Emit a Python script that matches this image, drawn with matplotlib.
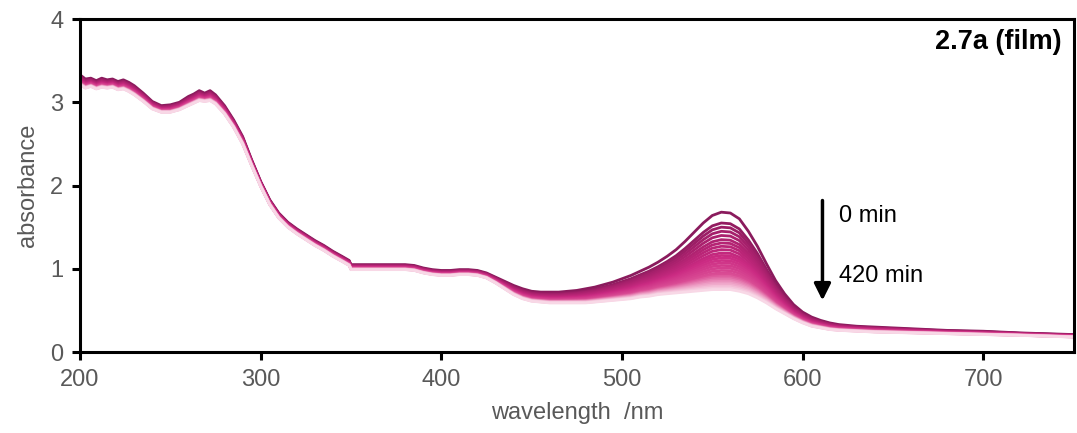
import numpy as np
import matplotlib
matplotlib.use("Agg")
import matplotlib.pyplot as plt
from matplotlib.colors import LinearSegmentedColormap

plt.rcParams['font.family'] = ['Liberation Sans', 'DejaVu Sans']

# Wavelength grid (nm)
wavelength = [200, 203, 206, 209, 212, 215, 218, 221, 224, 227, 230, 235, 240, 245, 250, 255,
              260, 263, 266, 269, 272, 275, 280, 285, 290, 295, 300, 305, 310, 315, 320, 325,
              330, 335, 340, 345, 349, 350, 355, 360, 365, 370, 375, 380, 385, 390, 395, 400,
              405, 410, 415, 420, 425, 430, 435, 440, 445, 450, 455, 460, 465, 470, 475, 480,
              485, 490, 495, 500, 505, 510, 515, 520, 525, 530, 535, 540, 545, 550, 555, 560,
              565, 570, 575, 580, 585, 590, 595, 600, 605, 610, 615, 620, 630, 640, 660, 680,
              700, 720, 750]

# Spectrum at 0 min
abs_0min = [3.33, 3.28, 3.29, 3.26, 3.29, 3.27, 3.28, 3.25, 3.27, 3.24, 3.20, 3.11, 3.01, 2.96,
            2.97, 3.00, 3.07, 3.10, 3.14, 3.11, 3.14, 3.09, 2.96, 2.79, 2.59, 2.31, 2.05, 1.83,
            1.67, 1.56, 1.48, 1.41, 1.34, 1.28, 1.21, 1.15, 1.10, 1.05, 1.05, 1.05, 1.05, 1.05,
            1.05, 1.05, 1.04, 1.01, 0.99, 0.98, 0.98, 0.99, 0.99, 0.98, 0.95, 0.90, 0.85, 0.80,
            0.76, 0.73, 0.72, 0.72, 0.72, 0.73, 0.74, 0.76, 0.78, 0.81, 0.84, 0.88, 0.92, 0.97,
            1.02, 1.08, 1.15, 1.23, 1.33, 1.44, 1.55, 1.64, 1.68, 1.67, 1.60, 1.45, 1.27, 1.06,
            0.86, 0.70, 0.57, 0.48, 0.42, 0.38, 0.35, 0.33, 0.31, 0.30, 0.28, 0.26, 0.25, 0.23,
            0.21]

# Spectrum at 420 min
abs_420min = [3.21, 3.17, 3.19, 3.16, 3.18, 3.17, 3.18, 3.15, 3.16, 3.13, 3.09, 3.01, 2.92, 2.88,
              2.88, 2.91, 2.96, 2.99, 3.02, 3.01, 3.02, 2.98, 2.86, 2.70, 2.50, 2.24, 1.99, 1.77,
              1.61, 1.50, 1.42, 1.35, 1.28, 1.22, 1.15, 1.09, 1.04, 0.99, 0.99, 0.99, 0.99, 0.99,
              0.99, 0.99, 0.98, 0.95, 0.93, 0.92, 0.92, 0.93, 0.93, 0.92, 0.89, 0.83, 0.76, 0.69,
              0.64, 0.61, 0.60, 0.59, 0.59, 0.59, 0.59, 0.59, 0.60, 0.61, 0.62, 0.63, 0.64, 0.66,
              0.67, 0.69, 0.70, 0.71, 0.72, 0.73, 0.74, 0.75, 0.75, 0.75, 0.73, 0.70, 0.65, 0.59,
              0.52, 0.46, 0.40, 0.35, 0.31, 0.29, 0.27, 0.26, 0.25, 0.24, 0.23, 0.22, 0.21, 0.20,
              0.18]

# Absorbance at the 555 nm band maximum for each spectrum, 0 min -> 420 min
peak_abs = [1.68, 1.55, 1.50, 1.45, 1.40, 1.35, 1.31, 1.27, 1.23, 1.19, 1.16, 1.13, 1.10, 1.07,
            1.04, 1.01, 0.98, 0.95, 0.93, 0.91, 0.89, 0.87, 0.85, 0.83, 0.81, 0.79, 0.77, 0.75]

wl = np.array(wavelength, dtype=float)
a0 = np.array(abs_0min)
a1 = np.array(abs_420min)

cmap = LinearSegmentedColormap.from_list(
    "fade", [(0.0, "#8a1b5d"), (0.12, "#a8206c"), (0.4, "#cc2b83"),
             (0.68, "#db4f96"), (0.86, "#ee9fc5"), (1.0, "#f8d8e6")])

fig = plt.figure(figsize=(10.77, 4.33), dpi=100)
ax = fig.add_axes([0.0743, 0.187, 0.9225, 0.769])

n = len(peak_abs)
for i in range(n):
    frac = (peak_abs[i] - peak_abs[-1]) / (peak_abs[0] - peak_abs[-1])
    spec = a1 + frac * (a0 - a1)
    ax.plot(wl, spec, color=cmap(i / (n - 1)), lw=2.0, solid_capstyle='round',
            solid_joinstyle='round')

ax.set_xlim(200, 750)
ax.set_ylim(0, 4)
ax.set_xticks([200, 300, 400, 500, 600, 700])
ax.set_yticks([0, 1, 2, 3, 4])

for s in ax.spines.values():
    s.set_linewidth(2.2)
    s.set_color('black')

ax.tick_params(axis='both', direction='out', length=6, width=2.2, color='black',
               labelsize=17, labelcolor='#595959', pad=6)

ax.set_xlabel("wavelength  /nm", fontsize=17, color='#595959', labelpad=8)
ax.set_ylabel("absorbance", fontsize=17, color='#595959', labelpad=8)

ax.text(0.988, 0.93, "2.7a (film)", transform=ax.transAxes, ha='right', va='center',
        fontsize=19.5, fontweight='bold', color='black')

# time-evolution arrow
ax.annotate("", xy=(611, 0.62), xytext=(611, 1.82),
            arrowprops=dict(arrowstyle="-|>,head_width=0.5,head_length=1.0",
                            color='black', lw=2.5, shrinkA=0, shrinkB=0))
ax.text(620, 1.64, "0 min", fontsize=17, color='black', va='center', ha='left')
ax.text(620, 0.91, "420 min", fontsize=17, color='black', va='center', ha='left')

fig.savefig("out.png", dpi=100)
